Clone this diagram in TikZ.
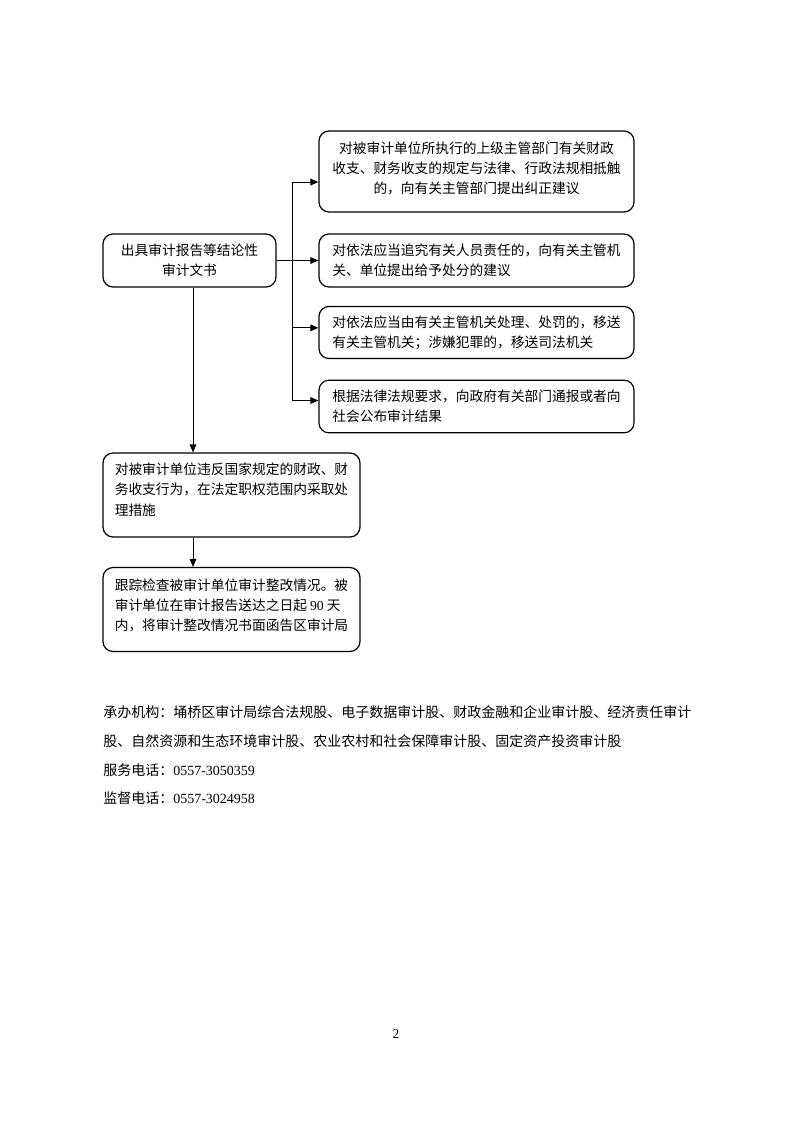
\documentclass[tikz,border=0pt]{standalone}
\usepackage{fontspec}
\setmainfont{Noto Sans CJK SC}
\newfontfamily\latfont{Liberation Serif}
\newcommand\lat[1]{{\latfont #1}}
\usetikzlibrary{arrows.meta}
\begin{document}
\begin{tikzpicture}[x=0.75pt,y=-0.75pt,
  box/.style={draw, rounded corners=7.5pt, line width=0.9pt, inner sep=0pt,
    font=\fontsize{10.3}{15.3}\selectfont},
  arr/.style={-{Triangle[length=6pt,width=5pt]}, line width=0.75pt},
  foot/.style={anchor=west, inner sep=0pt, font=\fontsize{10.5}{13}\selectfont}]
\useasboundingbox[fill=white] (0,0) rectangle (793,1122);

\node[box, minimum width=129.75pt, minimum height=39.75pt, align=center] (a) at (189.5,260.5)
  {出具审计报告等结论性\\审计文书};
\node[box, minimum width=236.25pt, minimum height=60.75pt, align=center, text depth=5.8pt] (b1) at (476.5,171.5)
  {对被审计单位所执行的上级主管部门有关财政\\收支、财务收支的规定与法律、行政法规相抵触\\的，向有关主管部门提出纠正建议};
\node[box, minimum width=236.25pt, minimum height=39.75pt, align=left] (b2) at (476.5,260.5)
  {对依法应当追究有关人员责任的，向有关主管机\\关、单位提出给予处分的建议};
\node[box, minimum width=236.25pt, minimum height=39pt, align=left] (b3) at (476.5,332.5)
  {对依法应当由有关主管机关处理、处罚的，移送\\有关主管机关；涉嫌犯罪的，移送司法机关};
\node[box, minimum width=236.25pt, minimum height=39.5pt, align=left] (b4) at (476.5,406.5)
  {根据法律法规要求，向政府有关部门通报或者向\\社会公布审计结果};
\node[box, minimum width=192.75pt, minimum height=63pt, align=left, text depth=8.8pt] (b5) at (231.5,495)
  {对被审计单位违反国家规定的财政、财\\务收支行为，在法定职权范围内采取处\\理措施};
\node[box, minimum width=192.75pt, minimum height=63pt, align=left, text depth=7.3pt] (b6) at (231.5,609.5)
  {跟踪检查被审计单位审计整改情况。被\\审计单位在审计报告送达之日起 \lat{90} 天\\内，将审计整改情况书面函告区审计局};

% connectors
\coordinate (t) at (292,260.5);
\coordinate (vx) at (193,0);
\draw[arr] (a.east) -- (b2.west);
\draw[arr] (t) |- ([yshift=-7.9pt]b1.west);
\draw[arr] (t) |- ([yshift=3.5pt]b3.west);
\draw[arr] (t) |- ([yshift=4.5pt]b4.west);
\draw[arr] (a.south -| vx) -- (b5.north -| vx);
\draw[arr] (b5.south -| vx) -- (b6.north -| vx);

% footer
\node[foot] (f1) at (103,712) {承办机构：埇桥区审计局综合法规股、电子数据审计股、财政金融和企业审计股、经济责任审计};
\node[foot] (f2) at (103,741) {股、自然资源和生态环境审计股、农业农村和社会保障审计股、固定资产投资审计股};
\node[foot] (f3) at (103,770) {服务电话：\lat{0557-3050359}};
\node[foot] (f4) at (103,798) {监督电话：\lat{0557-3024958}};
\node[inner sep=0pt, font=\latfont\fontsize{10}{12}\selectfont] (pg) at (396,1034) {2};
\end{tikzpicture}
\end{document}
